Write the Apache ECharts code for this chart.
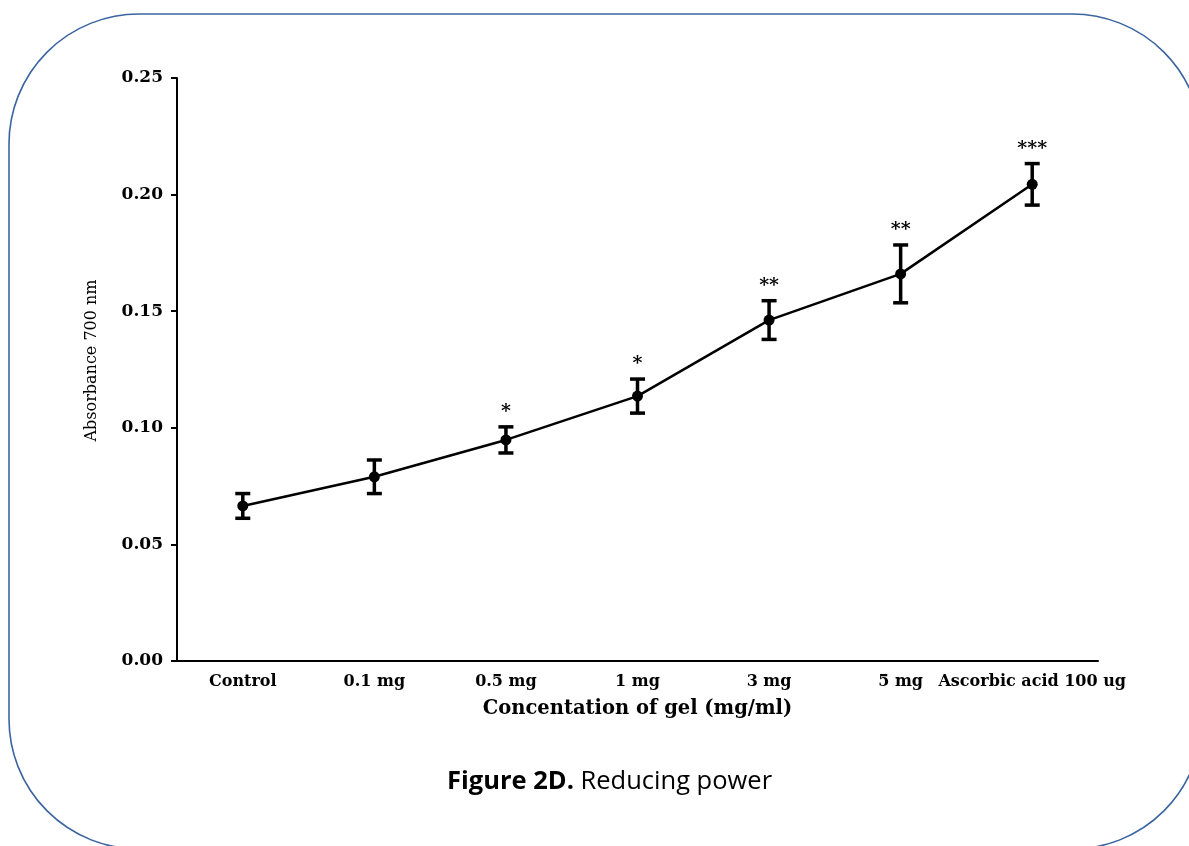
<!DOCTYPE html>
<html>
<head>
<meta charset="utf-8">
<script src="https://cdn.jsdelivr.net/npm/echarts@6/dist/echarts.min.js"></script>
<style>
  html, body { margin: 0; padding: 0; background: #fff; }
  #chart { width: 1189px; height: 846px; }
</style>
</head>
<body>
<div id="chart"></div>
<script>
// values
var categories = ['Control', '0.1 mg', '0.5 mg', '1 mg', '3 mg', '5 mg', 'Ascorbic acid 100 ug']
var means = [0.0665, 0.079, 0.0948, 0.1136, 0.1462, 0.166, 0.2044]
var errors = [0.0053, 0.0072, 0.0056, 0.0073, 0.0083, 0.0124, 0.0089]
var stars = ['', '', '*', '*', '**', '**', '***']

var serif = 'DejaVu Serif'

var errData = []
for (var i = 0; i < categories.length; i++) {
  errData.push([i, means[i] - errors[i], means[i] + errors[i]])
}

function renderError (params, api) {
  var lo = api.coord([api.value(0), api.value(1)])
  var hi = api.coord([api.value(0), api.value(2)])
  var half = 7.5
  var style = { stroke: '#000', lineWidth: 3.5, fill: null }
  var children = [
    { type: 'line', shape: { x1: hi[0], y1: hi[1], x2: lo[0], y2: lo[1] }, style: style },
    { type: 'line', shape: { x1: hi[0] - half, y1: hi[1], x2: hi[0] + half, y2: hi[1] }, style: style },
    { type: 'line', shape: { x1: lo[0] - half, y1: lo[1], x2: lo[0] + half, y2: lo[1] }, style: style }
  ]
  var s = stars[params.dataIndex]
  if (s) {
    children.push({
      type: 'text',
      style: {
        x: hi[0], y: hi[1] - 5,
        text: s,
        align: 'center', verticalAlign: 'bottom',
        font: 'bold 19px "' + serif + '"',
        fill: '#000'
      }
    })
  }
  return { type: 'group', children: children }
}

var chart = echarts.init(document.getElementById('chart'))
chart.setOption({
  backgroundColor: '#fff',
  animation: false,
  title: {
    text: '{b|Figure 2D.} Reducing power',
    left: 442,
    top: 764,
    textStyle: {
      fontFamily: 'Open Sans',
      fontSize: 25.5,
      fontWeight: 'normal',
      color: '#000',
      rich: {
        b: { fontFamily: 'Open Sans', fontSize: 25.5, fontWeight: 'bold', color: '#000' }
      }
    }
  },
  graphic: [{
    type: 'rect',
    shape: { x: 9, y: 14, width: 1193, height: 835, r: 130 },
    style: { fill: null, stroke: '#3b64a0', lineWidth: 1.6 },
    silent: true
  }],
  grid: { left: 177, right: 91, top: 78, bottom: 185 },
  xAxis: {
    type: 'category',
    data: categories,
    name: 'Concentation of gel (mg/ml)',
    nameLocation: 'middle',
    nameGap: 38,
    nameTextStyle: { fontFamily: serif, fontWeight: 'bold', fontSize: 19.5, color: '#000' },
    axisLine: { lineStyle: { color: '#000', width: 2 } },
    axisTick: { alignWithLabel: true, length: 5, lineStyle: { color: '#000', width: 2 } },
    axisLabel: { interval: 0, margin: 13, fontFamily: serif, fontWeight: 'bold', fontSize: 16, color: '#000' },
    splitLine: { show: false }
  },
  yAxis: {
    type: 'value',
    min: 0,
    max: 0.25,
    interval: 0.05,
    name: 'Absorbance 700 nm',
    nameLocation: 'middle',
    nameGap: 77,
    nameTextStyle: { fontFamily: serif, fontSize: 16, color: '#000', padding: [0, 0, 0, 18] },
    axisLine: { show: true, lineStyle: { color: '#000', width: 2 } },
    axisTick: { show: true, length: 6, lineStyle: { color: '#000', width: 2 } },
    axisLabel: {
      margin: 14, fontFamily: serif, fontWeight: 'bold', fontSize: 17, color: '#000',
      formatter: function (v) { return v.toFixed(2) }
    },
    splitLine: { show: false }
  },
  series: [
    {
      type: 'line',
      data: means,
      symbol: 'circle',
      symbolSize: 11,
      itemStyle: { color: '#000' },
      lineStyle: { color: '#000', width: 2.5 },
      z: 3
    },
    {
      type: 'custom',
      data: errData,
      renderItem: renderError,
      encode: { x: 0, y: [1, 2] },
      z: 2
    }
  ]
})
</script>
</body>
</html>
